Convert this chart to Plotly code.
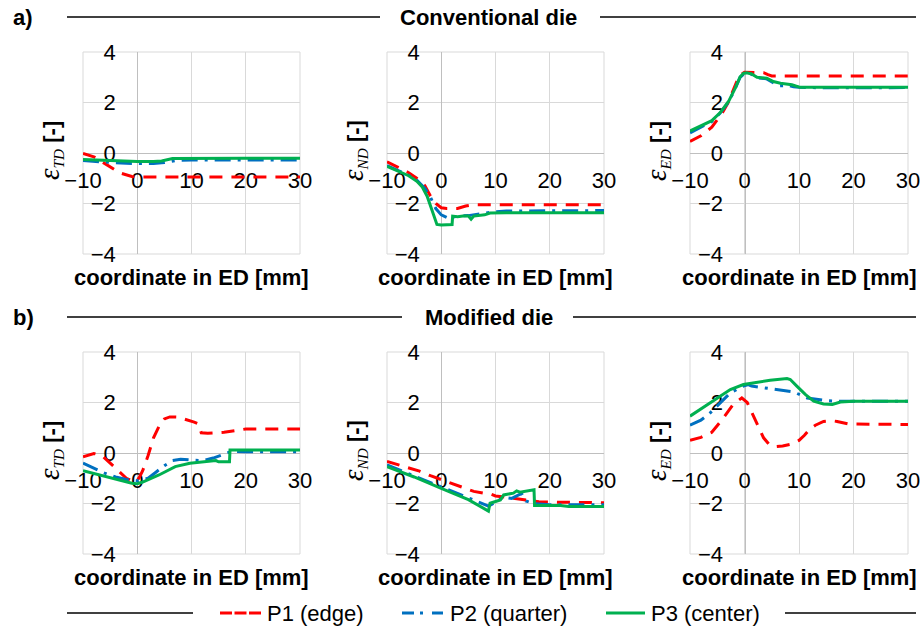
import plotly.graph_objects as go

# ---------------- data ----------------
# a) Conventional die
td_conv_p1_x = [-10, -9, -8, -7, -6, -5, -4, -3, -2, -1, 0, 5, 10, 20, 30]
td_conv_p1_y = [-0.02, -0.08, -0.15, -0.28, -0.42, -0.55, -0.68, -0.8, -0.88, -0.93, -0.95, -0.95, -0.95, -0.95, -0.95]
td_conv_p2_x = [-10, -6, -3, 0, 3, 5, 7, 10, 20, 30]
td_conv_p2_y = [-0.3, -0.36, -0.4, -0.42, -0.42, -0.38, -0.3, -0.28, -0.28, -0.28]
td_conv_p3_x = [-10, -6, -3, 0, 3, 4.5, 6.5, 10, 20, 30]
td_conv_p3_y = [-0.26, -0.3, -0.33, -0.34, -0.34, -0.32, -0.22, -0.21, -0.21, -0.21]

nd_conv_p1_x = [-10, -8, -6, -4, -3, -2, -1, 0, 1, 3, 4.5, 6, 8, 15, 30]
nd_conv_p1_y = [-0.35, -0.55, -0.78, -1.08, -1.3, -1.7, -2.0, -2.17, -2.2, -2.2, -2.1, -2.05, -2.05, -2.05, -2.05]
nd_conv_p2_x = [-10, -8, -6, -4.5, -3, -2, -1, 0, 1, 2, 3, 5, 7, 9, 12, 20, 30]
nd_conv_p2_y = [-0.5, -0.68, -0.88, -1.08, -1.4, -1.75, -2.2, -2.45, -2.55, -2.55, -2.5, -2.48, -2.42, -2.35, -2.3, -2.28, -2.28]
nd_conv_p3_x = [-10, -8, -6, -4.5, -3.5, -2.6, -2, -1.4, -0.8, 0, 1, 2, 2.1, 3, 4, 5, 5.5, 6, 8, 9, 12, 20, 30]
nd_conv_p3_y = [-0.53, -0.7, -0.9, -1.12, -1.35, -1.71, -2.1, -2.5, -2.83, -2.85, -2.85, -2.83, -2.5, -2.52, -2.5, -2.5, -2.62, -2.5, -2.45, -2.38, -2.37, -2.37, -2.37]

ed_conv_p1_x = [-10, -8, -6, -4, -3, -2, -1, 0, 2, 3.5, 4.3, 5, 8, 15, 30]
ed_conv_p1_y = [0.46, 0.68, 1.02, 1.62, 2.0, 2.55, 3.05, 3.2, 3.2, 3.18, 3.1, 3.05, 3.05, 3.05, 3.05]
ed_conv_p2_x = [-10, -8, -6, -4.5, -2.9, -1.7, -0.8, 0, 1, 2.3, 4, 5.5, 6.5, 8, 9, 10, 15, 25, 30]
ed_conv_p2_y = [0.8, 1.02, 1.25, 1.57, 2.03, 2.55, 3.0, 3.15, 3.15, 2.98, 2.94, 2.75, 2.66, 2.68, 2.62, 2.6, 2.58, 2.58, 2.6]
ed_conv_p3_x = [-10, -8, -6, -4.5, -2.9, -1.7, -0.8, -0.2, 0.4, 1.3, 2.3, 4.1, 5.3, 6.6, 8.7, 10.2, 15, 20, 30]
ed_conv_p3_y = [0.87, 1.07, 1.28, 1.59, 2.05, 2.57, 3.02, 3.15, 3.18, 3.13, 3.0, 2.96, 2.83, 2.76, 2.7, 2.6, 2.6, 2.6, 2.6]

# b) Modified die
td_mod_p1_x = [-10, -8, -6.5, -5, -3.5, -2, -0.5, 0.3, 1, 2, 3, 4, 5, 6, 7.5, 9, 10.5, 11.3, 11.8, 13, 16, 20, 30]
td_mod_p1_y = [-0.15, -0.02, -0.1, -0.4, -0.7, -1.0, -1.15, -1.0, -0.7, -0.1, 0.6, 1.05, 1.35, 1.43, 1.42, 1.33, 1.22, 1.15, 0.8, 0.78, 0.82, 0.95, 0.95]
td_mod_p2_x = [-10, -8, -6, -4, -2, 0, 2, 3.5, 5, 6.5, 8, 10, 12, 14, 16, 17.5, 20, 30]
td_mod_p2_y = [-0.4, -0.6, -0.8, -0.95, -1.05, -1.1, -1.0, -0.75, -0.5, -0.3, -0.25, -0.28, -0.3, -0.2, -0.05, 0.07, 0.05, 0.05]
td_mod_p3_x = [-10, -7, -4, -1, 0, 1, 4, 7, 9.7, 12, 14.5, 15, 17, 17.1, 20, 30]
td_mod_p3_y = [-0.7, -0.87, -1.05, -1.2, -1.22, -1.15, -0.87, -0.54, -0.41, -0.35, -0.3, -0.35, -0.35, 0.12, 0.12, 0.12]

nd_mod_p1_x = [-10, -8, -6, -4, -2, 0, 2, 4, 6, 8, 9, 10, 12, 14, 16, 18, 22, 30]
nd_mod_p1_y = [-0.33, -0.45, -0.57, -0.72, -0.9, -1.05, -1.2, -1.38, -1.52, -1.6, -1.62, -1.7, -1.75, -1.82, -1.88, -1.93, -1.95, -1.97]
nd_mod_p2_x = [-10, -5, 0, 5, 8.7, 9.2, 10, 11.5, 13, 14, 14.8, 15.6, 17, 20, 30]
nd_mod_p2_y = [-0.47, -0.9, -1.33, -1.78, -2.1, -2.05, -1.95, -1.75, -1.8, -1.7, -1.6, -1.9, -2.0, -2.05, -2.05]
nd_mod_p3_x = [-10, -5, 0, 5, 8.7, 9, 10.9, 11.5, 13.3, 13.9, 14.5, 15.8, 17.1, 17.2, 22, 23.5, 30]
nd_mod_p3_y = [-0.54, -0.95, -1.4, -1.85, -2.3, -1.99, -1.86, -1.66, -1.59, -1.5, -1.55, -1.49, -1.46, -2.08, -2.08, -2.12, -2.12]

ed_mod_p1_x = [-10, -8, -6, -4, -2, -0.5, 0.5, 1.5, 2.5, 3.5, 4.5, 5.5, 7, 8.5, 10, 11, 12, 13, 14.5, 16, 17, 19, 30]
ed_mod_p1_y = [0.5, 0.62, 0.82, 1.35, 1.95, 2.18, 2.0, 1.55, 1.05, 0.6, 0.35, 0.25, 0.28, 0.35, 0.5, 0.7, 0.95, 1.1, 1.25, 1.28, 1.25, 1.15, 1.13]
ed_mod_p2_x = [-10, -8, -6.3, -3.9, -2.6, -0.2, 0.7, 1.3, 3.5, 4.1, 7.2, 9, 11.5, 13.3, 15, 17, 20, 30]
ed_mod_p2_y = [1.1, 1.3, 1.59, 2.12, 2.38, 2.65, 2.71, 2.65, 2.58, 2.55, 2.45, 2.42, 2.18, 2.12, 2.08, 2.05, 2.05, 2.05]
ed_mod_p3_x = [-10, -7.5, -5.1, -2.6, -0.2, 2.3, 4.7, 7.8, 8.4, 9.6, 11.2, 12.7, 14.5, 16.1, 17.6, 20, 30]
ed_mod_p3_y = [1.46, 1.81, 2.18, 2.51, 2.71, 2.8, 2.88, 2.95, 2.91, 2.65, 2.31, 2.05, 1.94, 1.92, 2.02, 2.05, 2.05]

series_names = ["P1 (edge)", "P2 (quarter)", "P3 (center)"]
row_titles = ["Conventional die", "Modified die"]
row_labels = ["a)", "b)"]
strain_subs = ["TD", "ND", "ED"]
x_title = "coordinate in ED [mm]"
x_ticks = [-10, 0, 10, 20, 30]
y_ticks = [-4, -2, 0, 2, 4]

# ---------------- layout helpers ----------------
W, H = 921, 630
def fx(p):
    return p / W
def fy(p):
    return 1 - p / H

COLS = [(83, 300), (387, 604), (690, 908)]
ROWS = [(52, 254), (352, 554)]
FONT = "Liberation Sans, Arial, sans-serif"
STYLES = [
    dict(color="#FF0000", width=3, dash="13px,9px"),
    dict(color="#0070C0", width=3, dash="16px,7px,3px,7px"),
    dict(color="#00B050", width=3),
]

panels = [
    (0, 0, [(td_conv_p1_x, td_conv_p1_y), (td_conv_p2_x, td_conv_p2_y), (td_conv_p3_x, td_conv_p3_y)]),
    (0, 1, [(nd_conv_p1_x, nd_conv_p1_y), (nd_conv_p2_x, nd_conv_p2_y), (nd_conv_p3_x, nd_conv_p3_y)]),
    (0, 2, [(ed_conv_p1_x, ed_conv_p1_y), (ed_conv_p2_x, ed_conv_p2_y), (ed_conv_p3_x, ed_conv_p3_y)]),
    (1, 0, [(td_mod_p1_x, td_mod_p1_y), (td_mod_p2_x, td_mod_p2_y), (td_mod_p3_x, td_mod_p3_y)]),
    (1, 1, [(nd_mod_p1_x, nd_mod_p1_y), (nd_mod_p2_x, nd_mod_p2_y), (nd_mod_p3_x, nd_mod_p3_y)]),
    (1, 2, [(ed_mod_p1_x, ed_mod_p1_y), (ed_mod_p2_x, ed_mod_p2_y), (ed_mod_p3_x, ed_mod_p3_y)]),
]

fig = go.Figure()
layout = {}
annotations = []
shapes = []

for i, (r, c, data) in enumerate(panels, start=1):
    xid = "x" if i == 1 else f"x{i}"
    yid = "y" if i == 1 else f"y{i}"
    xkey = "xaxis" if i == 1 else f"xaxis{i}"
    ykey = "yaxis" if i == 1 else f"yaxis{i}"
    for k, (xs, ys) in enumerate(data):
        fig.add_trace(go.Scatter(x=xs, y=ys, mode="lines", name=series_names[k],
                                 line=STYLES[k], showlegend=False,
                                 xaxis=xid, yaxis=yid, hoverinfo="x+y+name"))
    x0, x1 = COLS[c]
    y0, y1 = ROWS[r]
    zero_x = x0 + (0 - (-10)) / 40 * (x1 - x0)
    zero_y = y0 + (4 - 0) / 8 * (y1 - y0)
    layout[xkey] = dict(
        domain=[fx(x0), fx(x1)], range=[-10, 30], tickmode="array", tickvals=x_ticks,
        anchor="free", position=fy(zero_y),
        showgrid=True, gridcolor="#D9D9D9", gridwidth=1, zeroline=False,
        showline=True, linecolor="#BFBFBF", linewidth=1, ticks="",
        tickfont=dict(family=FONT, size=22, color="#000000"),
        ticklabelstandoff=8, layer="below traces", fixedrange=True, automargin=False,
    )
    layout[ykey] = dict(
        domain=[fy(y1), fy(y0)], range=[-4, 4], tickmode="array", tickvals=y_ticks,
        anchor="free", position=fx(zero_x),
        showgrid=True, gridcolor="#D9D9D9", gridwidth=1, zeroline=False,
        showline=True, linecolor="#BFBFBF", linewidth=1, ticks="",
        tickfont=dict(family=FONT, size=22, color="#000000"),
        ticklabelstandoff=17, layer="below traces", fixedrange=True, automargin=False,
    )
    shapes.append(dict(type="rect", xref=f"{xid} domain", yref=f"{yid} domain",
                       x0=0, x1=1, y0=0, y1=1, line=dict(color="#D9D9D9", width=1),
                       layer="below"))
    annotations.append(dict(text=f"<b>{x_title}</b>", xref="paper", yref="paper",
                            x=fx((x0 + x1) / 2), y=fy(y1 + 23), xanchor="center", yanchor="middle",
                            showarrow=False, font=dict(family=FONT, size=22, color="#000000")))
    ytxt = ("<span style=\"font-family:'Liberation Serif'\"><i>"
            "<span style=\"font-size:29px\">ε</span>"
            f"<sub>{strain_subs[c]}</sub></i></span> <b>[-]</b>")
    annotations.append(dict(text=ytxt, xref="paper", yref="paper",
                            x=fx(x0 - 33), y=fy((y0 + y1) / 2 - 2), xanchor="center", yanchor="middle",
                            textangle=-90, showarrow=False,
                            font=dict(family=FONT, size=22, color="#000000")))

header_rows = [(17, 380, 600), (317, 402, 573)]
for r, (hy, lend, rstart) in enumerate(header_rows):
    annotations.append(dict(text=f"<b>{row_labels[r]}</b>", xref="paper", yref="paper",
                            x=fx(11), y=fy(hy), xanchor="left", yanchor="middle", showarrow=False,
                            font=dict(family=FONT, size=22, color="#000000")))
    annotations.append(dict(text=f"<b>{row_titles[r]}</b>", xref="paper", yref="paper",
                            x=fx(488.5), y=fy(hy), xanchor="center", yanchor="middle", showarrow=False,
                            font=dict(family=FONT, size=22, color="#000000")))
    for (a, b) in [(67, lend), (rstart, 916)]:
        shapes.append(dict(type="line", xref="paper", yref="paper", x0=fx(a), x1=fx(b),
                           y0=fy(hy), y1=fy(hy), line=dict(color="#000000", width=1.5)))

ly = 613
for (a, b) in [(67, 193), (785, 916)]:
    shapes.append(dict(type="line", xref="paper", yref="paper", x0=fx(a), x1=fx(b),
                       y0=fy(ly), y1=fy(ly), line=dict(color="#000000", width=1.5)))
legend_items = [(220, 261, 267), (402, 443, 450), (606, 645, 651)]
legend_dash = ["12px,2.5px", "12px,6px,3px,9px", "solid"]
for k, (a, b, tx) in enumerate(legend_items):
    shapes.append(dict(type="line", xref="paper", yref="paper", x0=fx(a), x1=fx(b),
                       y0=fy(ly), y1=fy(ly),
                       line=dict(color=STYLES[k]["color"], width=3, dash=legend_dash[k])))
    annotations.append(dict(text=series_names[k], xref="paper", yref="paper",
                            x=fx(tx - 2), y=fy(ly), xanchor="left", yanchor="middle", showarrow=False,
                            font=dict(family=FONT, size=22, color="#000000")))

fig.update_layout(
    width=W, height=H, margin=dict(l=0, r=0, t=0, b=0, pad=0, autoexpand=False),
    paper_bgcolor="white", plot_bgcolor="white",
    showlegend=False, annotations=annotations, shapes=shapes,
    font=dict(family=FONT, size=22, color="#000000"),
    **layout,
)

fig.write_html("out.html", config={"displayModeBar": False},
               post_script="document.body.style.margin='0px';")
